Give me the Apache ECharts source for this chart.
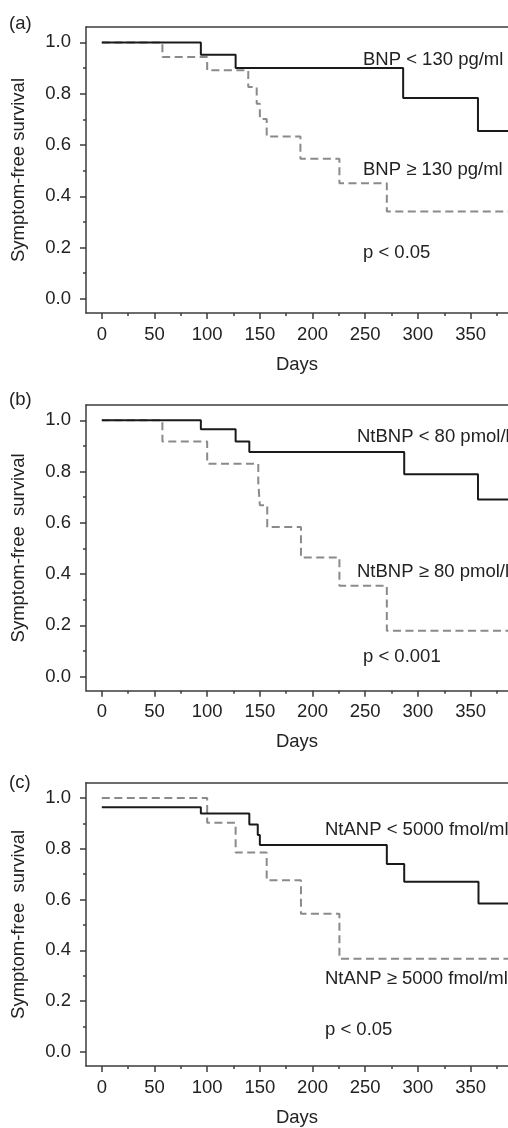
<!DOCTYPE html>
<html>
	<head>
		<meta charset="utf-8" />
		<title>Symptom-free survival</title>
		<script src="https://cdn.jsdelivr.net/npm/echarts@6/dist/echarts.min.js"></script>
		<style>
			* {
				margin: 0;
				padding: 0;
				box-sizing: border-box;
			}
			body {
				background: #fff;
			}
		</style>
	</head>
	<body>
		<div id="main" style="width: 508px; height: 1128px"></div>
		<script>
			// 数据 (a) BNP
			var aLowDays = [0, 94, 127, 286, 357, 386];
			var aLowSurv = [1, 0.952, 0.9, 0.783, 0.655, 0.655];
			var aHighDays = [0, 57.5, 100, 139, 147, 150, 156.5, 188.5, 225.5, 270.5, 386];
			var aHighSurv = [1, 0.943, 0.891, 0.826, 0.761, 0.701, 0.633, 0.546, 0.451, 0.341, 0.341];
			// (b) NtBNP
			var bLowDays = [0, 94, 127, 140, 287, 357, 386];
			var bLowSurv = [1, 0.965, 0.918, 0.877, 0.79, 0.691, 0.691];
			var bHighDays = [0, 57.5, 100, 148.5, 150, 157, 189, 225.5, 270.5, 386];
			var bHighSurv = [1, 0.918, 0.831, 0.756, 0.669, 0.584, 0.465, 0.355, 0.179, 0.179];
			// (c) NtANP
			var cLowDays = [0, 94, 140, 148, 150, 270.5, 287, 357.5, 386];
			var cLowSurv = [0.963, 0.939, 0.895, 0.854, 0.815, 0.74, 0.67, 0.585, 0.585];
			var cHighDays = [0, 100, 127, 156.5, 189, 225.5, 386];
			var cHighSurv = [1, 0.902, 0.785, 0.676, 0.544, 0.367, 0.367];

			var xMajor = [0, 50, 100, 150, 200, 250, 300, 350];
			var xMinor = [25, 75, 125, 175, 225, 275, 325, 375];
			var yMajor = [0, 0.2, 0.4, 0.6, 0.8, 1.0];
			var yMinor = [0.1, 0.3, 0.5, 0.7, 0.9];

			var panelLabels = ['(a)', '(b)', '(c)'];
			var yNames = ['Symptom-free survival', 'Symptom-free  survival', 'Symptom-free  survival'];
			var notes = [
				['BNP < 130 pg/ml', 'BNP ≥ 130 pg/ml', 'p < 0.05'],
				['NtBNP < 80 pmol/l', 'NtBNP ≥ 80 pmol/l', 'p < 0.001'],
				['NtANP < 5000 fmol/ml', 'NtANP ≥ 5000 fmol/ml', 'p < 0.05'],
			];

			var FONT = 'Liberation Sans, Arial, sans-serif';
			var FS = 18.5;
			var AXIS = '#3c3c3c';
			var TEXT = '#222';

			function zip(xs, ys) {
				return xs.map(function (x, i) {
					return [x, ys[i]];
				});
			}

			var lowSets = [zip(aLowDays, aLowSurv), zip(bLowDays, bLowSurv), zip(cLowDays, cLowSurv)];
			var highSets = [zip(aHighDays, aHighSurv), zip(bHighDays, bHighSurv), zip(cHighDays, cHighSurv)];

			// 版面位置
			var gridTops = [27, 405, 782.7];
			var gridH = [286, 285.7, 285.3];
			var labelY = [24, 400, 783];
			var noteX = [[363, 363, 363], [357, 357, 363], [325, 325, 325]];
			var noteY = [[60, 170, 253], [437, 572, 657], [830, 979, 1030]];

			var grids = [], xAxes = [], yAxes = [], series = [], graphics = [];
			for (var p = 0; p < 3; p++) {
				grids.push({left: 86, right: 0, top: gridTops[p], height: gridH[p]});
				// 主刻度 + 标签
				xAxes.push({
					type: 'value', gridIndex: p, position: 'bottom', min: -15, max: 385.5,
					name: 'Days', nameLocation: 'middle', nameGap: 42,
					nameTextStyle: {fontSize: FS, color: TEXT, fontFamily: FONT},
					axisLine: {show: true, onZero: false, lineStyle: {color: AXIS, width: 1.5}},
					axisTick: {show: true, customValues: xMajor, length: 6, lineStyle: {color: AXIS, width: 1.5}},
					axisLabel: {customValues: xMajor, margin: 12, fontSize: FS, color: TEXT, fontFamily: FONT},
					splitLine: {show: false},
				});
				// 次刻度
				xAxes.push({
					type: 'value', gridIndex: p, position: 'bottom', min: -15, max: 385.5,
					axisLine: {show: false, onZero: false},
					axisTick: {show: true, customValues: xMinor, length: 3, lineStyle: {color: AXIS, width: 1.5}},
					axisLabel: {show: false},
					splitLine: {show: false},
				});
				// 顶部边框
				xAxes.push({
					type: 'value', gridIndex: p, position: 'top', min: -15, max: 385.5,
					axisLine: {show: true, onZero: false, lineStyle: {color: AXIS, width: 1.5}},
					axisTick: {show: false}, axisLabel: {show: false}, splitLine: {show: false},
				});
				yAxes.push({
					type: 'value', gridIndex: p, position: 'left', min: -0.055, max: 1.06,
					name: yNames[p], nameLocation: 'middle', nameGap: 58,
					nameTextStyle: {fontSize: FS, color: TEXT, fontFamily: FONT},
					axisLine: {show: true, onZero: false, lineStyle: {color: AXIS, width: 1.5}},
					axisTick: {show: true, customValues: yMajor, length: 6, lineStyle: {color: AXIS, width: 1.5}},
					axisLabel: {
						customValues: yMajor, margin: 15, fontSize: FS, color: TEXT, fontFamily: FONT,
						formatter: function (v) {
							return v.toFixed(1);
						},
					},
					splitLine: {show: false},
				});
				yAxes.push({
					type: 'value', gridIndex: p, position: 'left', min: -0.055, max: 1.06,
					axisLine: {show: false, onZero: false},
					axisTick: {show: true, customValues: yMinor, length: 3, lineStyle: {color: AXIS, width: 1.5}},
					axisLabel: {show: false},
					splitLine: {show: false},
				});
				series.push({
					type: 'line', step: 'end', xAxisIndex: p * 3, yAxisIndex: p * 2,
					data: highSets[p], symbol: 'none', silent: true, clip: true,
					lineStyle: {color: '#8a8a8a', width: 2, type: [8, 4.5]},
				});
				series.push({
					type: 'line', step: 'end', xAxisIndex: p * 3, yAxisIndex: p * 2,
					data: lowSets[p], symbol: 'none', silent: true, clip: true,
					lineStyle: {color: '#1a1a1a', width: 2},
				});
				graphics.push({
					type: 'text', x: 9, y: labelY[p],
					style: {text: panelLabels[p], font: FS + 'px ' + FONT, fill: TEXT, verticalAlign: 'middle'},
				});
				for (var k = 0; k < 3; k++) {
					graphics.push({
						type: 'text', x: noteX[p][k], y: noteY[p][k],
						style: {text: notes[p][k], font: FS + 'px ' + FONT, fill: TEXT, verticalAlign: 'middle'},
					});
				}
			}

			var myChart = echarts.init(document.getElementById('main'));
			var option = {
				animation: false,
				backgroundColor: '#fff',
				grid: grids,
				xAxis: xAxes,
				yAxis: yAxes,
				series: series,
				graphic: graphics,
			};
			myChart.setOption(option);
		</script>
	</body>
</html>
